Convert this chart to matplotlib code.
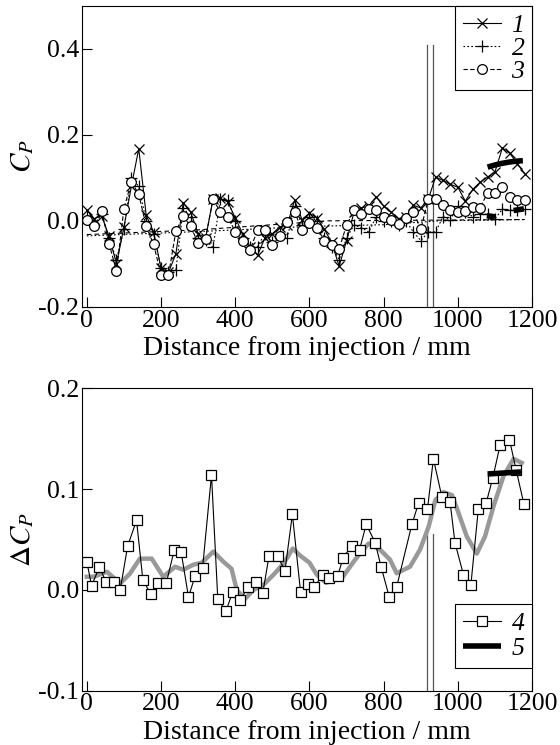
import matplotlib
matplotlib.use("Agg")
import matplotlib.pyplot as plt

plt.rcParams['font.family'] = ['Liberation Serif', 'DejaVu Serif']
plt.rcParams['mathtext.fontset'] = 'stix'

# ---------------- data: top panel ----------------
x_top = [0, 20, 40, 60, 80, 100, 120, 140, 160, 180, 200, 220, 240, 260, 280,
         300, 320, 340, 360, 380, 400, 420, 440, 460, 480, 500, 520, 540, 560, 580,
         600, 620, 640, 660, 680, 700, 720, 740, 760, 780, 800, 820, 840, 860, 880,
         900, 920, 940, 960, 980, 1000, 1020, 1040, 1060, 1080, 1100, 1120, 1140, 1160, 1180]

s1 = [0.025, 0.005, 0.012, -0.036, -0.100, -0.015, 0.080, 0.168, 0.013, -0.026,
      -0.110, -0.120, -0.077, 0.042, 0.020, -0.030, -0.040, 0.050, 0.052, 0.044,
      0.007, -0.030, -0.060, -0.080, -0.040, -0.030, -0.014, -0.010, 0.048, 0.003,
      0.018, 0.007, -0.020, -0.050, -0.106, -0.046, 0.020, 0.030, 0.035, 0.056,
      0.034, 0.020, 0.005, 0.010, 0.036, 0.030, 0.050, 0.102, 0.094, 0.085,
      0.078, 0.046, 0.073, 0.090, 0.102, 0.114, 0.170, 0.157, 0.133, 0.110]

s2 = [0.010, -0.010, 0.015, -0.040, -0.090, -0.020, 0.100, 0.080, 0.000, -0.030,
      -0.110, -0.120, -0.115, 0.030, 0.010, -0.040, -0.045, -0.062, 0.050, 0.048,
      0.000, -0.040, -0.060, -0.060, -0.030, -0.050, -0.030, -0.040, 0.035, -0.010,
      0.010, 0.000, -0.040, -0.060, -0.090, -0.040, -0.010, -0.016, -0.026, 0.010,
      0.000, 0.000, -0.010, 0.000, -0.026, -0.046, -0.026, -0.026, 0.010, 0.003,
      0.034, 0.020, 0.010, 0.017, 0.015, 0.005, 0.027, 0.025, 0.025, 0.028]

s3 = [0.003, -0.013, 0.023, -0.053, -0.117, 0.028, 0.091, 0.062, -0.013, -0.055,
      -0.125, -0.127, -0.024, 0.011, -0.013, -0.052, -0.042, 0.050, 0.021, 0.010,
      -0.026, -0.048, -0.067, -0.022, -0.022, -0.056, -0.036, -0.003, 0.021, -0.022,
      -0.005, -0.016, -0.046, -0.057, -0.065, -0.010, 0.025, 0.017, 0.027, 0.026,
      0.009, 0.003, -0.008, 0.007, 0.021, -0.020, 0.050, 0.051, 0.036, 0.026,
      0.020, 0.022, 0.032, 0.031, 0.065, 0.065, 0.079, 0.056, 0.049, 0.048]

# trend lines
tr3_x = [0, 300, 650, 1180]
tr3_y = [-0.032, -0.021, 0.000, 0.003]
tr2_x = [0, 300, 600, 800, 950, 1180]
tr2_y = [-0.035, -0.025, -0.013, -0.009, 0.000, 0.003]

# thick model segments in top panel
m1_x = [1080, 1100, 1120, 1140, 1160, 1175]
m1_y = [0.125, 0.130, 0.134, 0.137, 0.139, 0.140]
m2_x = [1078, 1100]
m2_y = [0.012, 0.009]
m3_x = [1150, 1178]
m3_y = [0.024, 0.028]

# ---------------- data: bottom panel ----------------
x4 = [0, 13, 34, 52, 73, 90, 110, 134, 151, 172, 193, 214, 236, 254, 274, 292, 312,
      336, 353, 375, 393, 413, 435, 455, 474, 491, 514, 534, 554, 576, 595, 613,
      636, 654, 676, 691, 714, 735, 753, 777, 793, 815, 835, 876, 894, 918, 934,
      957, 979, 992, 1015, 1035, 1055, 1076, 1094, 1114, 1139, 1157, 1178]
y4 = [0.028, 0.004, 0.023, 0.0075, 0.008, 0.000, 0.0435, 0.069, 0.010, -0.004,
      0.0065, 0.0065, 0.040, 0.038, -0.007, 0.014, 0.022, 0.114, -0.009, -0.021,
      -0.002, -0.010, 0.0025, 0.008, -0.0035, 0.0335, 0.0335, 0.019, 0.075, -0.002,
      0.0055, 0.003, 0.015, 0.0115, 0.014, 0.032, 0.044, 0.040, 0.065, 0.047,
      0.023, -0.007, 0.003, 0.065, 0.086, 0.080, 0.130, 0.092, 0.087, 0.047,
      0.015, 0.005, 0.080, 0.086, 0.111, 0.144, 0.149, 0.119, 0.085]

xg = [0, 18, 54, 90, 116, 143, 175, 206, 238, 260, 287, 310, 341, 368, 390, 404,
      426, 449, 476, 503, 530, 555, 575, 600, 620, 645, 690, 723, 759, 790, 817,
      835, 871, 898, 921, 939, 961, 984, 1002, 1024, 1051, 1073, 1096, 1123, 1150, 1172]
yg = [0.013, 0.013, 0.018, 0.0065, 0.016, 0.031, 0.031, 0.013, 0.023, 0.020, 0.025,
      0.027, 0.038, 0.028, 0.021, 0.000, -0.009, 0.000, 0.005, 0.015, 0.026, 0.041,
      0.034, 0.027, 0.015, 0.007, 0.013, 0.030, 0.046, 0.040, 0.030, 0.0165, 0.023,
      0.040, 0.0625, 0.089, 0.097, 0.094, 0.076, 0.053, 0.036, 0.053, 0.083, 0.113,
      0.130, 0.126]

m5_x = [1080, 1170]
m5_y = [0.115, 0.117]

vlines_x = [918, 933]

xticks = [0, 200, 400, 600, 800, 1000, 1200]
top_yticks = [-0.2, 0.0, 0.2, 0.4]
bot_yticks = [-0.1, 0.0, 0.1, 0.2]

TICK_FS = 18.5
LAB_FS = 20

fig = plt.figure(figsize=(5.6, 7.45), dpi=100)
ax1 = fig.add_axes([0.1466, 0.5882, 0.8036, 0.4038])
ax2 = fig.add_axes([0.1466, 0.0729, 0.8036, 0.4059])

def style(ax):
    ax.set_xlim(-12.7, 1200)
    ax.set_xticks(xticks)
    ax.set_xticklabels([str(v) for v in xticks])
    ax.tick_params(direction='in', length=7, width=0.8, labelsize=TICK_FS,
                   top=False, right=False, pad=2)
    for sp in ax.spines.values():
        sp.set_linewidth(0.8)
    ax.set_xlabel('Distance from injection / mm', fontsize=LAB_FS, labelpad=3)

# top panel
style(ax1)
ax1.set_ylim(-0.2, 0.5)
ax1.set_yticks(top_yticks)
ax1.set_yticklabels(['-0.2', '0.0', '0.2', '0.4'])
for xv in vlines_x:
    ax1.plot([xv, xv], [-0.2, 0.41], color='#555555', lw=0.9, zorder=1)
ax1.plot(tr3_x, tr3_y, color='black', lw=0.8, ls=(0, (4, 3)), zorder=2)
ax1.plot(tr2_x, tr2_y, color='black', lw=0.8, ls=(0, (1.5, 2)), zorder=2)
l1, = ax1.plot(x_top, s1, color='black', lw=0.8, marker='x', ms=6.5, mew=0.9, zorder=3)
l2, = ax1.plot(x_top, s2, color='black', lw=0.8, ls=(0, (1.5, 2)), marker='+', ms=8,
               mew=0.9, zorder=3)
l3, = ax1.plot(x_top, s3, color='black', lw=0.8, ls=(0, (4, 2)), marker='o', ms=7,
               mfc='white', mew=0.9, zorder=4)
ax1.plot(m1_x, m1_y, color='black', lw=4, solid_capstyle='butt', zorder=5)
ax1.plot(m2_x, m2_y, color='black', lw=4, solid_capstyle='butt', zorder=5)
ax1.plot(m3_x, m3_y, color='black', lw=4, solid_capstyle='butt', zorder=5)
ax1.set_ylabel(r'$C_P$', fontsize=LAB_FS + 1, labelpad=2)
leg1 = ax1.legend([l1, l2, l3], ['1', '2', '3'], loc='upper right',
                  bbox_to_anchor=(1.0, 1.0), borderaxespad=0, fancybox=False,
                  edgecolor='black', framealpha=1, handlelength=1.5,
                  handletextpad=0.4, borderpad=0.3, labelspacing=0.0,
                  prop={'family': 'Liberation Serif', 'style': 'italic', 'size': 18.5})
leg1.get_frame().set_linewidth(0.8)

# bottom panel
style(ax2)
ax2.set_ylim(-0.1, 0.2)
ax2.set_yticks(bot_yticks)
ax2.set_yticklabels(['-0.1', '0.0', '0.1', '0.2'])
ax2.plot([vlines_x[0]] * 2, [-0.1, 0.063], color='#555555', lw=0.9, zorder=1)
ax2.plot([vlines_x[1]] * 2, [-0.1, 0.055], color='#555555', lw=0.9, zorder=1)
ax2.plot(xg, yg, color='#999999', lw=3.2, zorder=2, solid_joinstyle='round')
l4, = ax2.plot(x4, y4, color='black', lw=0.8, marker='s', ms=7.5, mfc='white',
               mew=0.9, zorder=3)
l5, = ax2.plot(m5_x, m5_y, color='black', lw=4, solid_capstyle='butt', zorder=4)
ax2.set_ylabel(r'$\Delta C_P$', fontsize=LAB_FS + 1, labelpad=2)
leg2 = ax2.legend([l4, l5], ['4', '5'], loc='lower right',
                  bbox_to_anchor=(1.0, 0.075), borderaxespad=0, fancybox=False,
                  edgecolor='black', framealpha=1, handlelength=1.5,
                  handletextpad=0.4, borderpad=0.3, labelspacing=0.1,
                  prop={'family': 'Liberation Serif', 'style': 'italic', 'size': 18.5})
leg2.get_frame().set_linewidth(0.8)

fig.savefig('out.png', dpi=100)
